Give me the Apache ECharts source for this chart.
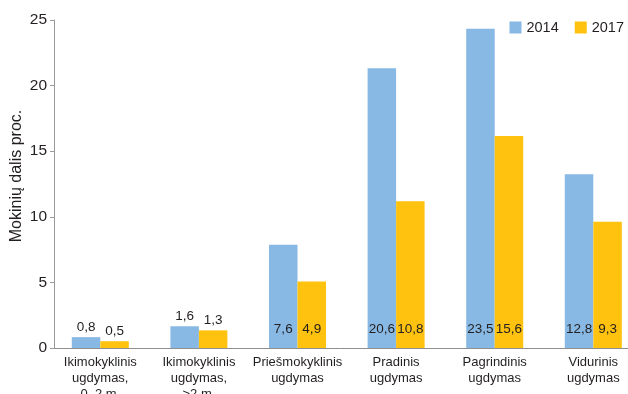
<!DOCTYPE html>
<html>
<head>
<meta charset="utf-8">
<script src="https://cdn.jsdelivr.net/npm/echarts@6/dist/echarts.min.js"></script>
<style>
html,body{margin:0;padding:0;background:#fff;}
#chart{width:628px;height:394px;}
</style>
</head>
<body>
<div id="chart"></div>
<script>
const categories = [
  'Ikimokyklinis\nugdymas,\n0–2 m.',
  'Ikimokyklinis\nugdymas,\n>2 m.',
  'Priešmokyklinis\nugdymas',
  'Pradinis\nugdymas',
  'Pagrindinis\nugdymas',
  'Vidurinis\nugdymas'
];
const seriesNames = ['2014', '2017'];
const values2014 = [0.8, 1.6, 7.6, 20.6, 23.5, 12.8];
const values2017 = [0.5, 1.3, 4.9, 10.8, 15.6, 9.3];
const yTickLabels = ['0', '5', '10', '15', '20', '25'];
const yAxisTitle = 'Mokinių dalis proc.';

const FONT = "'Liberation Sans', Arial, sans-serif";
const TXT = '#231f20';
const colors = ['#88b9e4', '#ffc20e'];

// The reference's axis scale: label "25" sits where the bars' scale reads ~24.15
const axisMax = 24.15;
const step = axisMax / (yTickLabels.length - 1);

function fmt(v) { return v.toFixed(1).replace('.', ','); }
function buildData(vals) {
  return vals.map((v, i) => ({
    value: v,
    label: i < 2
      ? { position: 'top', distance: 3 }
      : { position: 'insideBottom', distance: 12 }
  }));
}

const chart = echarts.init(document.getElementById('chart'), null, { renderer: 'canvas' });
chart.setOption({
  animation: false,
  color: colors,
  textStyle: { fontFamily: FONT },
  grid: { left: 51, right: -14.6, top: 20, bottom: 46, containLabel: false, outerBoundsMode: 'none' },
  legend: {
    right: -1, top: 15,
    itemWidth: 12, itemHeight: 12, itemGap: 16,
    icon: 'rect',
    textStyle: { fontFamily: FONT, fontSize: 14.5, color: TXT },
    data: seriesNames
  },
  graphic: [{
    type: 'text',
    x: 17, y: 176,
    rotation: Math.PI / 2,
    style: {
      text: yAxisTitle,
      fontFamily: FONT, fontSize: 16, fill: TXT,
      align: 'center', verticalAlign: 'middle'
    }
  }],
  xAxis: {
    type: 'category',
    data: categories,
    axisLine: { lineStyle: { color: '#8f8f8f', width: 1 } },
    axisTick: { show: false },
    axisLabel: { interval: 0, fontFamily: FONT, fontSize: 13, color: TXT, lineHeight: 16, margin: 6 }
  },
  yAxis: {
    type: 'value',
    min: 0, max: axisMax, interval: step,
    offset: -3,
    splitLine: { show: false },
    axisLine: { show: true, lineStyle: { color: '#9a9a9a', width: 1 } },
    axisTick: { show: true, length: 4, lineStyle: { color: '#9a9a9a' } },
    axisLabel: {
      fontFamily: FONT, fontSize: 15.5, color: TXT, margin: 7,
      formatter: v => yTickLabels[Math.round(v / step)]
    }
  },
  series: [
    { name: seriesNames[0], type: 'bar', barWidth: 28.5, barGap: '0%',
      data: buildData(values2014),
      label: { show: true, fontFamily: FONT, fontSize: 13.5, color: TXT, formatter: p => fmt(p.value) } },
    { name: seriesNames[1], type: 'bar', barWidth: 28.5, barGap: '0%',
      data: buildData(values2017),
      label: { show: true, fontFamily: FONT, fontSize: 13.5, color: TXT, formatter: p => fmt(p.value) } }
  ]
});
</script>
</body>
</html>
